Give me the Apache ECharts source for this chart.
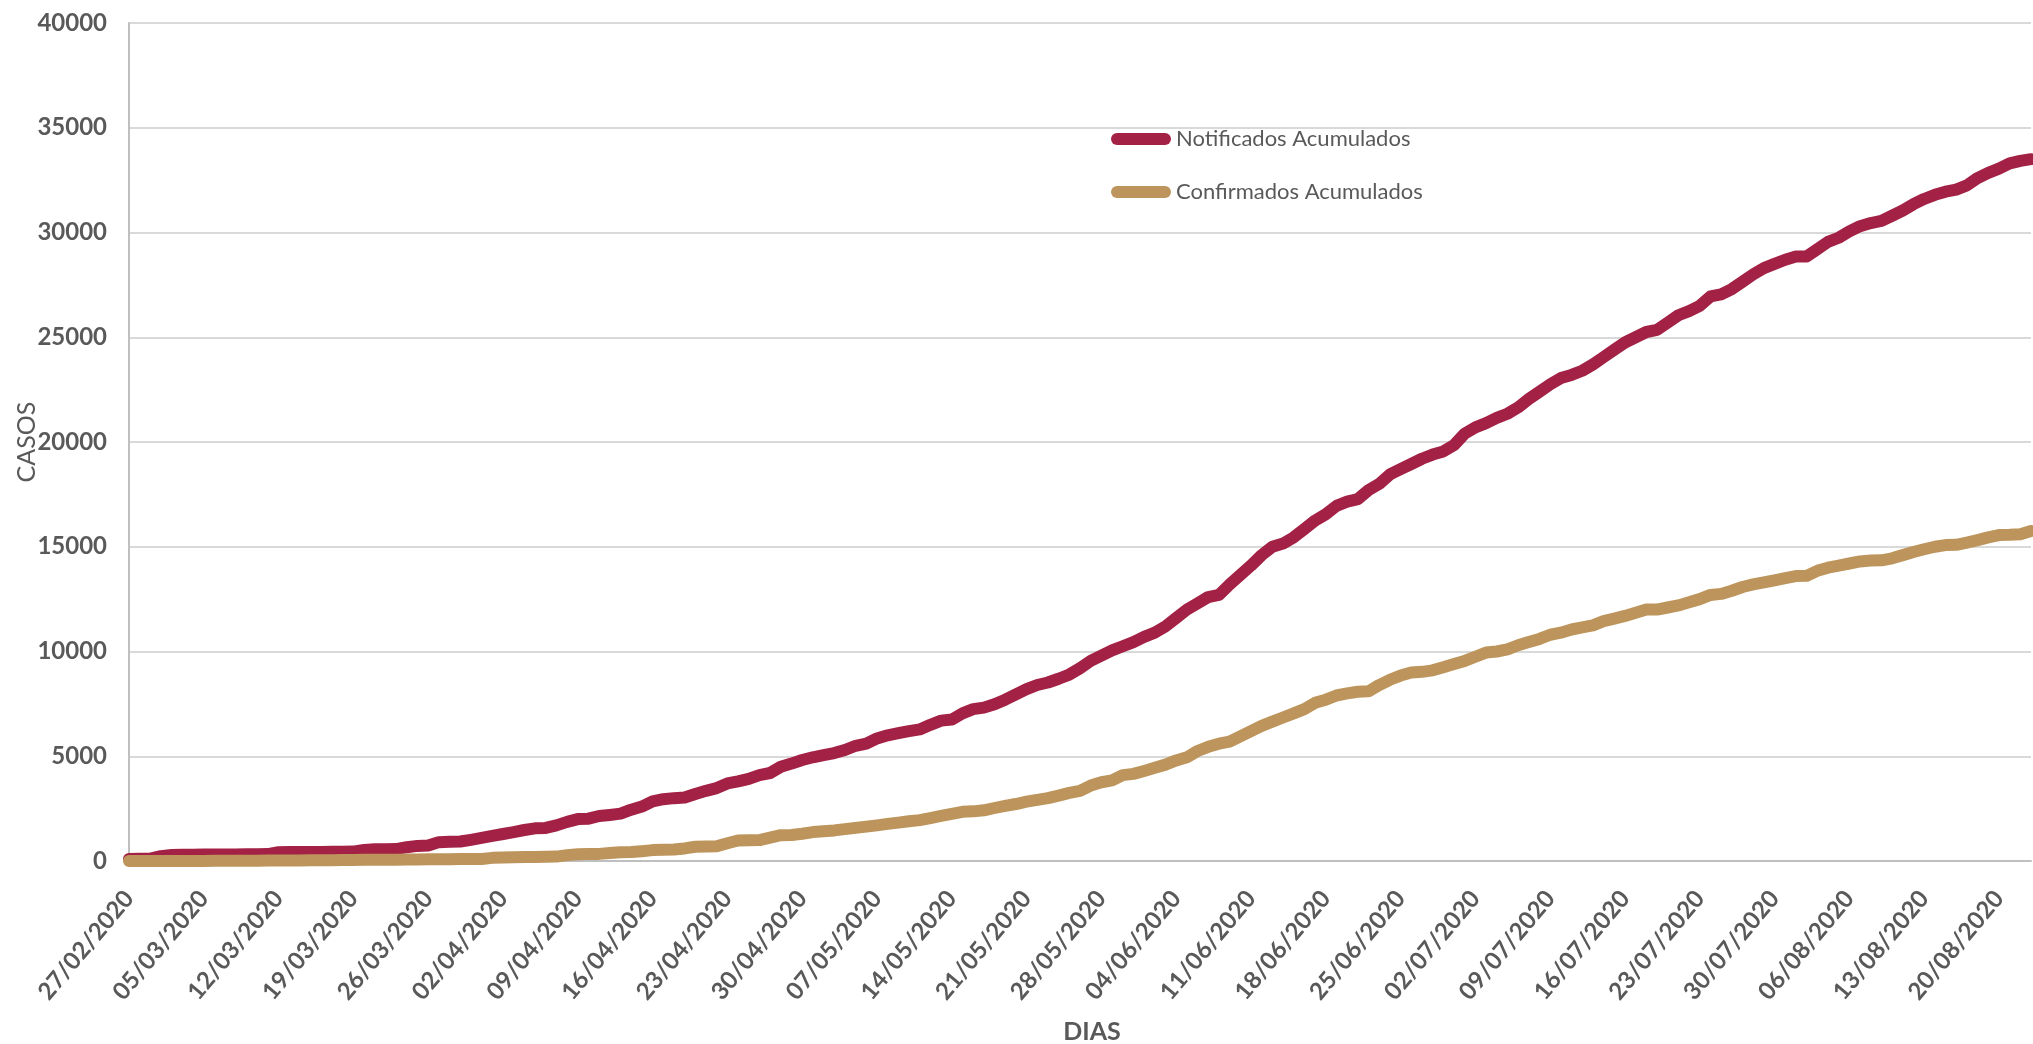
<!DOCTYPE html>
<html>
<head>
<meta charset="utf-8">
<style>
  html, body { margin: 0; padding: 0; background: #ffffff; }
  #chart { width: 2033px; height: 1044px; }
</style>
<script src="https://cdn.jsdelivr.net/npm/echarts@6/dist/echarts.min.js"></script>
</head>
<body>
<div id="chart"></div>
<script>
// Categories: daily dates from 27/02/2020 to 23/08/2020
const startDay = Date.UTC(2020, 1, 27);
const dayCount = 179;
const categories = [];
for (let i = 0; i < dayCount; i++) {
  const d = new Date(startDay + i * 86400000);
  const dd = String(d.getUTCDate()).padStart(2, '0');
  const mm = String(d.getUTCMonth() + 1).padStart(2, '0');
  categories.push(dd + '/' + mm + '/' + d.getUTCFullYear());
}

const seriesNames = ['Notificados Acumulados', 'Confirmados Acumulados'];

const notificados = [
  100,105,110,230,290,300,300,305,310,310,
  315,320,320,330,420,425,430,430,435,440,
  440,450,530,560,565,570,660,720,740,900,
  920,930,1010,1100,1200,1290,1380,1480,1560,1580,
  1700,1870,2000,2020,2150,2200,2260,2450,2600,2850,
  2950,3000,3030,3200,3350,3480,3700,3800,3920,4100,
  4200,4500,4650,4820,4950,5050,5150,5300,5500,5600,
  5850,6000,6100,6200,6280,6500,6700,6750,7050,7250,
  7320,7480,7700,7950,8200,8400,8520,8700,8900,9200,
  9550,9800,10050,10250,10450,10700,10900,11200,11600,12000,
  12300,12600,12700,13200,13650,14100,14600,15000,15150,15450,
  15850,16250,16550,16950,17150,17270,17700,18000,18450,18700,
  18950,19200,19400,19550,19850,20400,20700,20900,21150,21350,
  21650,22050,22400,22750,23050,23200,23400,23700,24050,24400,
  24750,25000,25250,25350,25700,26050,26250,26500,26950,27050,
  27300,27650,28000,28300,28500,28700,28850,28860,29200,29550,
  29750,30050,30300,30450,30550,30800,31050,31350,31600,31800,
  31950,32050,32250,32600,32850,33050,33300,33420,33500
];

const confirmados = [
  0,0,0,1,2,3,4,5,6,8,
  10,12,15,18,22,25,28,32,35,40,
  45,50,55,58,62,65,70,75,80,85,
  88,92,95,100,150,170,180,190,195,200,
  210,280,320,330,340,380,420,430,470,520,
  540,550,600,680,690,700,850,980,990,1000,
  1120,1230,1240,1300,1380,1420,1460,1520,1580,1640,
  1700,1770,1830,1900,1950,2050,2150,2250,2350,2370,
  2420,2530,2630,2720,2830,2920,3000,3120,3250,3350,
  3600,3760,3850,4100,4160,4300,4450,4600,4800,4950,
  5250,5450,5600,5700,5950,6200,6450,6650,6850,7050,
  7250,7550,7700,7900,8000,8080,8100,8400,8650,8850,
  9000,9030,9100,9250,9400,9550,9750,9950,10000,10100,
  10300,10450,10600,10800,10900,11050,11150,11250,11450,11570,
  11700,11850,12000,12000,12100,12200,12350,12500,12700,12750,
  12900,13080,13200,13300,13400,13500,13600,13610,13850,14000,
  14100,14200,14300,14340,14350,14450,14600,14750,14880,15000,
  15080,15090,15200,15320,15450,15560,15570,15600,15750
];

const yTicks = { min: 0, max: 40000, interval: 5000 };

const FONT = "Lato, 'Liberation Sans', sans-serif";
const TEXT = '#595959';
const RED = '#A32144';
const GOLD = '#BD955C';

const chart = echarts.init(document.getElementById('chart'), null, { renderer: 'canvas' });
chart.setOption({
  animation: false,
  backgroundColor: '#ffffff',
  grid: { left: 129, right: 2, top: 23, bottom: 183, containLabel: false, outerBoundsMode: 'none' },
  legend: {
    orient: 'vertical',
    left: 1106,
    top: 121,
    itemWidth: 60,
    itemHeight: 12,
    itemGap: 27,
    icon: 'path://M6,0 L54,0 A6,6 0 0 1 54,12 L6,12 A6,6 0 0 1 6,0 Z',
    textStyle: { fontFamily: FONT, fontSize: 22, color: TEXT, lineHeight: 26 },
    data: seriesNames
  },
  xAxis: {
    type: 'category',
    data: categories,
    boundaryGap: false,
    name: 'DIAS',
    nameLocation: 'middle',
    nameGap: 158,
    nameMoveOverlap: false,
    nameTextStyle: { fontFamily: FONT, fontSize: 25, fontWeight: 'bold', color: TEXT, padding: [0, 0, 0, 24] },
    axisLine: { show: true, lineStyle: { color: '#BFBFBF', width: 2 } },
    axisTick: { show: false },
    axisLabel: {
      interval: 6,
      rotate: 50,
      margin: 33,
      fontFamily: FONT,
      fontSize: 24,
      fontWeight: 'bold',
      color: TEXT
    },
    splitLine: { show: false }
  },
  yAxis: {
    type: 'value',
    min: yTicks.min,
    max: yTicks.max,
    interval: yTicks.interval,
    name: 'CASOS',
    nameLocation: 'middle',
    nameRotate: 90,
    nameGap: 90,
    nameMoveOverlap: false,
    nameTextStyle: { fontFamily: FONT, fontSize: 25, color: TEXT },
    axisLine: { show: true, lineStyle: { color: '#BFBFBF', width: 2 } },
    axisTick: { show: false },
    axisLabel: {
      margin: 22, fontFamily: FONT, fontSize: 24, fontWeight: 'bold', color: TEXT,
      formatter: function (v) { return String(v); }
    },
    splitLine: { show: true, lineStyle: { color: '#D9D9D9', width: 2 } }
  },
  series: [
    {
      name: seriesNames[0],
      type: 'line',
      data: notificados,
      showSymbol: false,
      smooth: false,
      color: RED,
      lineStyle: { color: RED, width: 12, cap: 'round', join: 'round' }
    },
    {
      name: seriesNames[1],
      type: 'line',
      data: confirmados,
      showSymbol: false,
      smooth: false,
      color: GOLD,
      lineStyle: { color: GOLD, width: 12, cap: 'round', join: 'round' }
    }
  ]
});
</script>
</body>
</html>
